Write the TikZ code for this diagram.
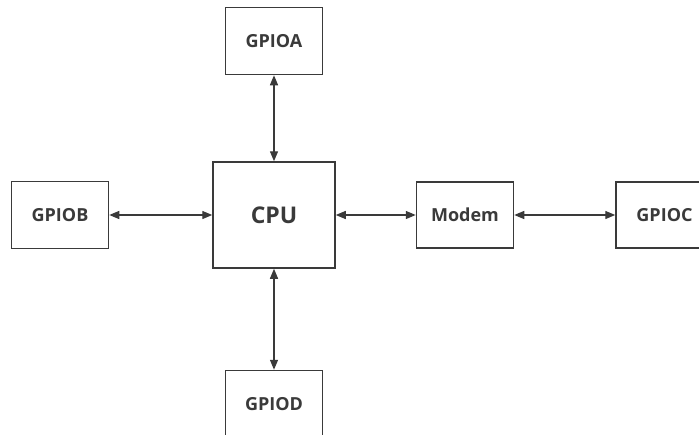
\documentclass[tikz,border=0pt]{standalone}
\usepackage{fontspec}
\setmainfont{Open Sans}
\usetikzlibrary{arrows.meta, positioning}
\definecolor{linegray}{HTML}{3A3A3A}
\tikzset{
  <->, % every connector has heads at both ends
  >={Triangle[length=10pt, width=8pt]}, % filled heads
  every node/.style={text=linegray}, % dark grey labels
  block/.style={draw=linegray, line width=1.5pt, fill=white,
    minimum width=97pt, minimum height=67pt, inner sep=0pt,
    font=\bfseries\fontsize{18}{21}\selectfont}, % the small boxes
}

\begin{document}
\begin{tikzpicture}[line width=1.4pt, draw=linegray]
    \useasboundingbox (0,0) rectangle (699pt,-434pt);

    \node[block, minimum width=122pt, minimum height=106pt,
      font=\bfseries\fontsize{23}{27}\selectfont] (cpu) at (274pt,-215pt) {CPU};
    \node[block, above=86pt of cpu] (gpioa) {GPIOA};
    \node[block, below=101pt of cpu] (gpiod) {GPIOD};
    \node[block, left=103pt of cpu] (gpiob) {GPIOB};
    \node[block, right=80pt of cpu, minimum height=66pt] (modem) {Modem};
    \node[block, right=101pt of modem, minimum height=66pt] (gpioc) {GPIOC};

    \draw
    (cpu) edge (gpioa)

    (cpu) edge (gpiod)

    (gpiob) edge (cpu)

    (cpu) edge (modem)

    (modem) edge (gpioc)

    ;
  \end{tikzpicture}
\end{document}
